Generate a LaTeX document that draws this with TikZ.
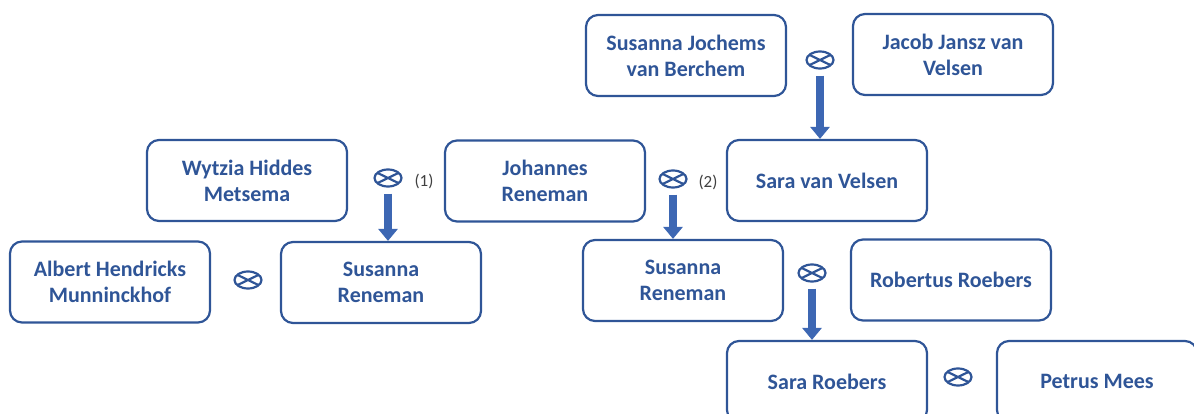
\documentclass[tikz,border=0pt]{standalone}
\usepackage{fontspec}
\setmainfont{Carlito}
\usetikzlibrary{shapes.geometric,arrows.meta}
\definecolor{famblue}{HTML}{2F5597}
\definecolor{arrblue}{HTML}{3D67B3}
\definecolor{notegray}{HTML}{404040}
\tikzset{
  person/.style={
    draw=famblue, line width=2.2pt, rounded corners=12pt,
    minimum width=200pt, minimum height=81pt, align=center,
    text=famblue, font=\fontsize{22}{26}\selectfont\bfseries
  },
  wed/.style={
    ellipse, draw=famblue, line width=2.2pt, inner sep=0pt,
    minimum width=27pt, minimum height=17pt,
    path picture={
      \draw [famblue, line width=2.2pt]
        ([shift={(-2pt,-1pt)}]path picture bounding box.north west) -- ([shift={(2pt,1pt)}]path picture bounding box.south east)
        ([shift={(2pt,-1pt)}]path picture bounding box.north east) -- ([shift={(-2pt,1pt)}]path picture bounding box.south west);
    }
  },
  descent/.style={
    arrblue, line width=7.5pt, shorten <=6pt,
    -{Triangle[length=12pt,width=19pt]}
  },
  note/.style={text=notegray, font=\fontsize{17}{19}\selectfont}
}

\begin{document}
\begin{tikzpicture}[x=1pt,y=-1pt]
\useasboundingbox (0,0) rectangle (1194,414);
\clip (0,0) rectangle (1194,414);

% top row
\node [person] (berchem) at (686,55.5) {Susanna Jochems\\van Berchem};
\node [person] (jacob) at (953,54.5) {Jacob Jansz van\\Velsen};
\node [wed] (w3) at (820,60) {};

% second row
\node [person] (wytzia) at (247,180.5) {Wytzia Hiddes\\Metsema};
\node [person] (johannes) at (545,181) {Johannes\\Reneman};
\node [person] (saravel) at (827,180.5) {Sara van Velsen};
\node [wed] (w1) at (388,178) {};
\node [note] (n1) at (424,181) {(1)};
\node [wed] (w2) at (673,179) {};
\node [note] (n2) at (708,182) {(2)};

% third row
\node [person] (albert) at (110,282) {Albert Hendricks\\Munninckhof};
\node [person] (susl) at (381,282.5) {Susanna\\Reneman};
\node [person] (susr) at (683,280.5) {Susanna\\Reneman};
\node [person] (robertus) at (951,280) {Robertus Roebers};
\node [wed] (w4) at (248,280) {};
\node [wed] (w5) at (812,273) {};

% bottom row
\node [person] (sararoe) at (827,381.5) {Sara Roebers};
\node [person] (petrus) at (1097,381.5) {Petrus Mees};
\node [wed] (w6) at (958,377) {};

% descent
\draw [descent] (w1.south) -- (w1.south |- susl.north);
\draw [descent] (w2.south) -- (w2.south |- susr.north);
\draw [descent] (w3.south) -- (w3.south |- saravel.north);
\draw [descent] (w5.south) -- (w5.south |- sararoe.north);
\end{tikzpicture}
\end{document}
